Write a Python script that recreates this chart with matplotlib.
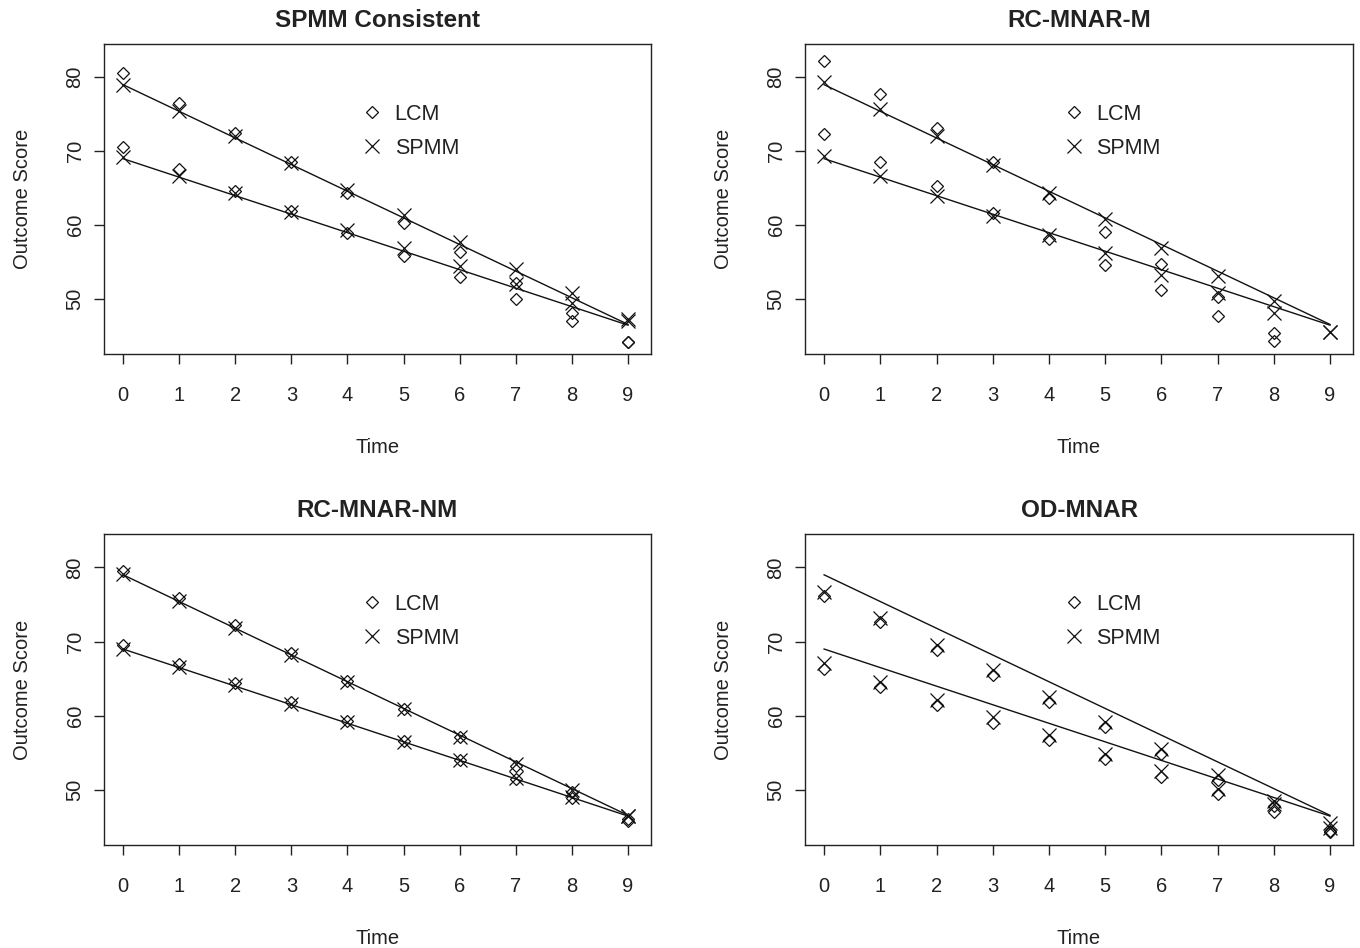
import numpy as np
import matplotlib
matplotlib.use("Agg")
import matplotlib.pyplot as plt
from matplotlib.lines import Line2D

plt.rcParams['font.family'] = ['Liberation Sans', 'DejaVu Sans']
plt.rcParams['text.color'] = '#222222'
plt.rcParams['xtick.labelcolor'] = '#222222'
plt.rcParams['ytick.labelcolor'] = '#222222'
plt.rcParams['axes.labelcolor'] = '#222222'

time = np.arange(10)
nan = np.nan

# true trajectories of the two groups
true_high = [79.0, 75.4, 71.8, 68.2, 64.6, 61.0, 57.4, 53.8, 50.2, 46.6]
true_low = [69.0, 66.5, 64.0, 61.5, 59.0, 56.5, 54.0, 51.5, 49.0, 46.5]

titles = ["SPMM Consistent", "RC-MNAR-M", "RC-MNAR-NM", "OD-MNAR"]

# SPMM Consistent
lcm_hi_1 = [80.6, 76.5, 72.5, 68.5, 64.4, 60.3, 56.4, 52.2, 48.2, 44.2]
lcm_lo_1 = [70.6, 67.6, 64.6, 61.9, 58.9, 55.9, 53.0, 50.0, 47.0, 44.2]
spmm_hi_1 = [79.0, 75.4, 72.0, 68.4, 64.7, 61.4, 57.8, 54.1, 50.8, 47.3]
spmm_lo_1 = [69.2, 66.6, 64.3, 61.8, 59.3, 56.9, 54.5, 52.0, 49.5, 47.0]

# RC-MNAR-M
lcm_hi_2 = [82.2, 77.8, 73.2, 68.5, 63.7, 59.1, 54.7, 50.3, 45.5, nan]
lcm_lo_2 = [72.3, 68.6, 65.3, 61.7, 58.2, 54.6, 51.2, 47.8, 44.3, nan]
spmm_hi_2 = [79.3, 75.7, 72.0, 68.1, 64.4, 60.8, 56.9, 53.2, 49.7, 45.6]
spmm_lo_2 = [69.3, 66.7, 64.0, 61.3, 58.7, 56.3, 53.3, 50.9, 48.2, 45.6]

# RC-MNAR-NM
lcm_hi_3 = [79.5, 75.9, 72.2, 68.5, 64.7, 60.9, 57.2, 53.2, 49.8, 45.8]
lcm_lo_3 = [69.5, 67.0, 64.4, 61.9, 59.3, 56.6, 54.1, 51.5, 48.9, 46.1]
spmm_hi_3 = [79.1, 75.5, 71.9, 68.2, 64.6, 60.9, 57.2, 53.5, 50.0, 46.5]
spmm_lo_3 = [69.0, 66.6, 64.2, 61.6, 59.2, 56.5, 54.0, 51.6, 49.1, 46.5]

# OD-MNAR
lcm_hi_4 = [76.1, 72.6, 68.9, 65.5, 61.9, 58.5, 54.8, 51.4, 47.9, 44.5]
lcm_lo_4 = [66.3, 63.9, 61.5, 59.0, 56.8, 54.2, 51.8, 49.5, 47.0, 44.3]
spmm_hi_4 = [76.7, 73.2, 69.6, 66.2, 62.6, 59.2, 55.6, 52.0, 48.5, 45.6]
spmm_lo_4 = [67.1, 64.6, 62.1, 59.8, 57.4, 54.9, 52.6, 50.1, 48.1, 44.9]

panels = [
    (lcm_hi_1, lcm_lo_1, spmm_hi_1, spmm_lo_1),
    (lcm_hi_2, lcm_lo_2, spmm_hi_2, spmm_lo_2),
    (lcm_hi_3, lcm_lo_3, spmm_hi_3, spmm_lo_3),
    (lcm_hi_4, lcm_lo_4, spmm_hi_4, spmm_lo_4),
]

W, H = 1360, 948
fig = plt.figure(figsize=(W / 100, H / 100), dpi=100)

# axes boxes in pixels: left, top, right, bottom
boxes = [(104, 44, 651, 354), (805, 44, 1353, 354),
         (104, 534, 651, 845), (805, 534, 1353, 845)]

dkw = dict(marker='D', ms=6.3, mfc='none', mec='#111111', mew=0.9, ls='none')
xkw = dict(marker='x', ms=10, color='#111111', mew=0.9, ls='none')

for i, (lh, ll, sh, sl) in enumerate(panels):
    l, t, r, b = boxes[i]
    ax = fig.add_axes([l / W, 1 - b / H, (r - l) / W, (b - t) / H])
    ax.plot(time, true_high, color='#111111', lw=1)
    ax.plot(time, true_low, color='#111111', lw=1)
    ax.plot(time, lh, **dkw)
    ax.plot(time, ll, **dkw)
    ax.plot(time, sh, **xkw)
    ax.plot(time, sl, **xkw)
    ax.set_xlim(-0.34, 9.41)
    ax.set_ylim(42.6, 84.5)
    ax.set_xticks(time)
    ax.set_yticks([50, 60, 70, 80])
    ax.tick_params(direction='out', length=7, width=1, color='#222222',
                   labelsize=14.5, pad=16)
    ax.tick_params(axis='y', pad=7)
    for lab in ax.get_yticklabels():
        lab.set_rotation(90)
        lab.set_va('center')
    for s in ax.spines.values():
        s.set_linewidth(1)
        s.set_color('#222222')
    ax.set_title(titles[i], fontsize=17.5, fontweight='bold', pad=12)
    ax.set_xlabel("Time", fontsize=14.5, labelpad=24)
    ax.set_ylabel("Outcome Score", fontsize=14.5, labelpad=24)
    handles = [Line2D([], [], **dkw), Line2D([], [], **xkw)]
    ax.legend(handles, ["LCM", "SPMM"], loc='upper left',
              bbox_to_anchor=(0.435, 0.87), frameon=False, fontsize=15.5,
              handlelength=1.0, handletextpad=0.55, labelspacing=0.6)

fig.savefig("out.png", dpi=100)
